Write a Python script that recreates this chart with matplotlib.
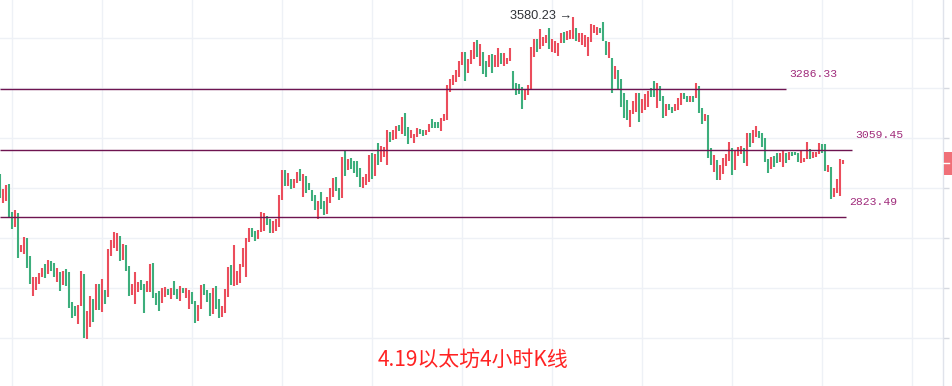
import numpy as np
import matplotlib
matplotlib.use('Agg')
import matplotlib.pyplot as plt
from matplotlib.ticker import FixedLocator, NullLocator, FixedFormatter
from matplotlib.lines import Line2D
import matplotlib.transforms as mtransforms

# ETH 4h candles: open / close (red = up, green = down)
open_ = [2972, 2872, 2879, 2937, 2841, 2791, 2838, 2710, 2703, 2755,
         2697, 2572, 2590, 2609, 2630, 2671, 2640, 2681, 2675, 2615,
         2646, 2606, 2656, 2646, 2554, 2542, 2488, 2542, 2640, 2444,
         2479, 2563, 2529, 2609, 2523, 2590, 2569, 2697, 2722, 2713,
         2761, 2684, 2732, 2665, 2575, 2548, 2584, 2621, 2609, 2584,
         2584, 2675, 2581, 2587, 2551, 2569, 2593, 2563, 2618, 2593,
         2557, 2596, 2566, 2532, 2584, 2557, 2497, 2532, 2609, 2590,
         2581, 2518, 2603, 2563, 2509, 2521, 2569, 2668, 2603, 2606,
         2612, 2662, 2630, 2742, 2788, 2778, 2752, 2775, 2778, 2828,
         2818, 2771, 2778, 2791, 2882, 2986, 2930, 2955, 2923, 2941,
         2990, 2892, 2965, 2941, 2916, 2899, 2818, 2909, 2879, 2834,
         2872, 2892, 2962, 2923, 2889, 3054, 2986, 3029, 3018, 3018,
         2993, 2923, 2934, 2944, 3047, 2965, 3084, 3015, 3033, 3004,
         3124, 3095, 3098, 3150, 3117, 3195, 3143, 3102, 3084, 3106,
         3135, 3131, 3113, 3124, 3173, 3161, 3161, 3128, 3165, 3169,
         3276, 3303, 3315, 3335, 3382, 3435, 3350, 3386, 3407, 3484,
         3378, 3435, 3399, 3374, 3427, 3374, 3374, 3431, 3378, 3386,
         3399, 3358, 3311, 3307, 3295, 3245, 3264, 3284, 3415, 3488,
         3447, 3460, 3472, 3534, 3435, 3431, 3419, 3472, 3518, 3484,
         3488, 3488, 3534, 3476, 3464, 3455, 3419, 3476, 3513, 3505,
         3534, 3560, 3480, 3411, 3411, 3327, 3362, 3327, 3272, 3245,
         3143, 3192, 3199, 3272, 3195, 3207, 3218, 3291, 3319, 3214,
         3299, 3260, 3184, 3230, 3218, 3203, 3207, 3226, 3272, 3260,
         3237, 3260, 3253, 3299, 3214, 3165, 3188, 3065, 2979, 3022,
         2951, 2972, 3001, 3018, 3065, 2986, 3036, 3044, 3065, 3001,
         3120, 3084, 3106, 3128, 3120, 3102, 3026, 2990, 3036, 3047,
         3015, 2997, 3047, 3022, 3051, 3051, 3047, 3011, 3015, 3026,
         3062, 3029, 3033, 3044, 3080, 3080, 2979, 2997, 2892, 2906,
         2896, 3008]
close = [2889, 2920, 2934, 2821, 2785, 2848, 2690, 2732, 2758, 2659,
         2609, 2630, 2630, 2643, 2659, 2627, 2684, 2649, 2630, 2659,
         2587, 2649, 2603, 2535, 2506, 2512, 2545, 2649, 2447, 2526,
         2572, 2494, 2609, 2529, 2624, 2548, 2719, 2748, 2775, 2771,
         2681, 2735, 2649, 2572, 2609, 2646, 2615, 2590, 2521, 2618,
         2671, 2566, 2545, 2526, 2596, 2599, 2575, 2596, 2575, 2563,
         2602, 2581, 2596, 2590, 2548, 2491, 2545, 2606, 2575, 2554,
         2512, 2596, 2532, 2506, 2542, 2593, 2662, 2606, 2732, 2649,
         2671, 2722, 2755, 2788, 2758, 2745, 2781, 2841, 2838, 2798,
         2771, 2811, 2818, 2899, 2986, 2930, 2976, 2920, 2955, 2979,
         2948, 2972, 2906, 2916, 2879, 2848, 2879, 2851, 2831, 2892,
         2923, 2958, 2913, 2882, 3033, 2965, 3026, 2990, 2976, 2962,
         2927, 2962, 2972, 3040, 2955, 3044, 3004, 3073, 3069, 3131,
         3087, 3131, 3146, 3128, 3180, 3109, 3080, 3131, 3117, 3139,
         3117, 3109, 3131, 3154, 3139, 3139, 3139, 3176, 3192, 3303,
         3327, 3343, 3362, 3399, 3435, 3319, 3407, 3443, 3476, 3415,
         3468, 3347, 3335, 3423, 3350, 3423, 3451, 3386, 3431, 3411,
         3451, 3284, 3264, 3268, 3210, 3284, 3303, 3455, 3488, 3435,
         3530, 3497, 3505, 3447, 3488, 3480, 3472, 3513, 3472, 3522,
         3526, 3580.23, 3480, 3513, 3513, 3505, 3497, 3551, 3547, 3538,
         3513, 3480, 3423, 3476, 3272, 3378, 3288, 3218, 3176, 3169,
         3207, 3241, 3272, 3161, 3249, 3268, 3280, 3257, 3257, 3311,
         3241, 3176, 3230, 3207, 3195, 3230, 3253, 3272, 3249, 3237,
         3260, 3237, 3311, 3195, 3154, 3192, 3029, 3004, 3040, 2951,
         3004, 3029, 3044, 3087, 2969, 3058, 3069, 3073, 3011, 3120,
         3069, 3131, 3146, 3102, 3069, 3015, 2976, 3033, 2997, 3011,
         3047, 3058, 3011, 3051, 3036, 3040, 3015, 3058, 3029, 3087,
         3026, 3051, 3051, 3084, 3047, 2983, 3004, 2885, 2923, 2955,
         3026, 3022]

levels = [3286.33, 3059.45, 2823.49]
last_price = 3010.0
grid_prices = [3491, 3290, 3101, 2922, 2754, 2595, 2446]
title = '4.19以太坊4小时K线'

RED = '#eb4d5c'
GREEN = '#3dae7c'
LINE_C = '#6e1450'
LABEL_C = '#a02c7c'

o = np.array(open_, dtype=float)
c = np.array(close, dtype=float)
idx = np.arange(len(o))

fig = plt.figure(figsize=(9.53, 3.86), dpi=100)
fig.patch.set_facecolor('white')
ax = fig.add_axes([0, 0, 942.7 / 953, 1])
ax.set_yscale('log')
ax.set_xlim(-0.1, 314.13)
ax.set_ylim(2311.3, 3653.6)

# grid
vgrid = 3.8 + 30 * np.arange(11)
for xg in vgrid:
    ax.axvline(xg, color='#eef1f6', lw=1, zorder=0)
for yg in grid_prices:
    ax.axhline(yg, color='#eef1f6', lw=1, zorder=0)

# candles
cols = np.where(c >= o, RED, GREEN)
ax.vlines(idx, np.minimum(o, c), np.maximum(o, c), colors=cols, lw=1.5, zorder=3)

# support / resistance lines with labels
line_ends = [261.9, 283.9, 281.9]
for lv, xe in zip(levels, line_ends):
    ax.hlines(lv, -0.1, xe, color=LINE_C, lw=1.0, zorder=4)
    ax.annotate(f'{lv:.2f}', xy=(xe, lv), xytext=(3, 15), textcoords='offset pixels',
                ha='left', va='center', color=LABEL_C, fontsize=8.2,
                family='Liberation Mono')

# peak annotation
hi = np.maximum(o, c)
k_peak = int(np.argmax(hi))
ax.annotate(f'{hi[k_peak]:.2f} →', xy=(k_peak, hi[k_peak]), xytext=(-1, 1),
            textcoords='offset pixels', ha='right', va='center',
            color='#2f3237', fontsize=9.2, family=['Liberation Sans', 'DejaVu Sans'])

# right price scale
ax.yaxis.tick_right()
ax.yaxis.set_major_locator(FixedLocator(grid_prices))
ax.yaxis.set_major_formatter(FixedFormatter([f'{p:.2f}' for p in grid_prices]))
ax.yaxis.set_minor_locator(NullLocator())
ax.tick_params(axis='y', which='major', length=4, width=1, color='#d6d9e0',
               labelsize=8, labelcolor='#555555', pad=2)
ax.set_xticks([])
for side in ['left', 'top', 'bottom']:
    ax.spines[side].set_visible(False)
ax.spines['right'].set_color('#e0e3eb')
ax.spines['right'].set_linewidth(1)

# current price label
ax.annotate(f'{last_price:.2f}', xy=(1.0, last_price),
            xycoords=('axes fraction', 'data'), xytext=(8, 0),
            textcoords='offset pixels', ha='left', va='center', color='white',
            fontsize=8, annotation_clip=False,
            bbox=dict(boxstyle='square,pad=0.6', fc='#f07078', ec='none'))
tr = mtransforms.blended_transform_factory(ax.transAxes, ax.transData)
ax.add_line(Line2D([1.0, 1.0 + 6 / 942.7], [last_price, last_price], color='white',
                   lw=1, transform=tr, clip_on=False, zorder=10))

fig.text(473 / 953, 1 - 361 / 386, title, ha='center', va='center',
         color='#ff2222', fontsize=15, family=['Noto Sans CJK SC', 'DejaVu Sans'])

fig.savefig('out.png', dpi=100, facecolor='white')
